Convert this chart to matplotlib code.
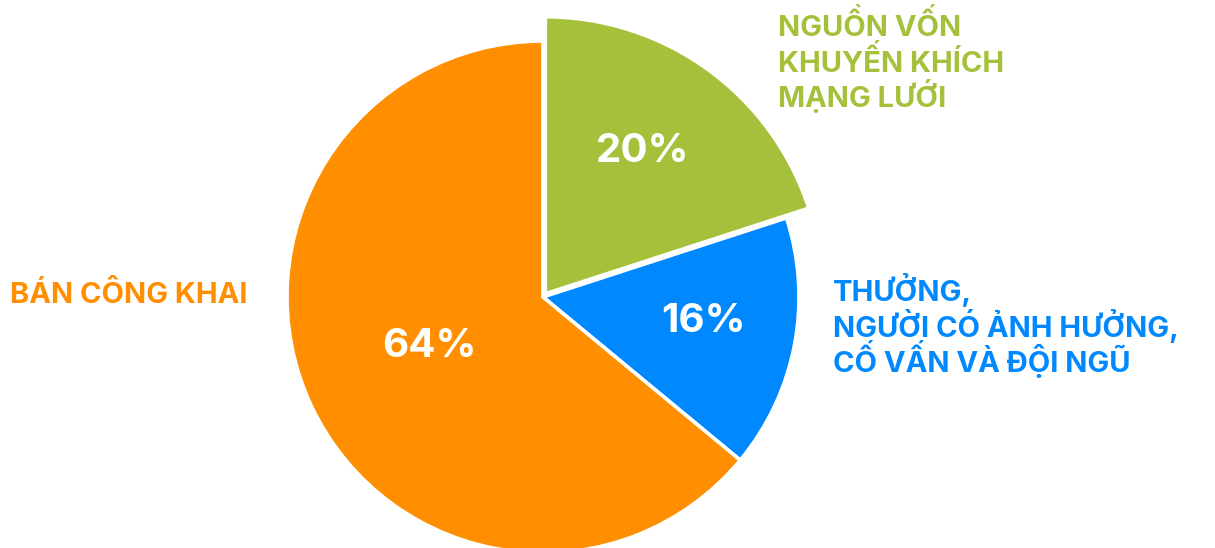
import matplotlib
matplotlib.use("Agg")
import matplotlib.pyplot as plt

# Share of funds by category (percent), clockwise from 12 o'clock
categories = [["NGUỒN VỐN", "KHUYẾN KHÍCH", "MẠNG LƯỚI"],
              ["THƯỞNG,", "NGƯỜI CÓ ẢNH HƯỞNG,", "CỐ VẤN VÀ ĐỘI NGŨ"],
              ["BÁN CÔNG KHAI"]]
values = [20, 16, 64]
pct_labels = ["20%", "16%", "64%"]
colors = ["#A5C13B", "#0088FF", "#FF8F00"]

W, H = 1215, 548
fig = plt.figure(figsize=(W / 100, H / 100), dpi=100)
ax = fig.add_axes([0, 0, 1, 1])

FONT = ["Inter", "DejaVu Sans"]
cx, cy, R = 543, 251, 256

wedges, _ = ax.pie(values, colors=colors, startangle=90, counterclock=False,
                   center=(cx, cy), radius=R, explode=[4, 0, 0],
                   wedgeprops=dict(edgecolor="white", linewidth=2.6))
ax.set_xlim(0, W)
ax.set_ylim(0, H)
ax.set_aspect("equal")
ax.axis("off")
# emphasise the first slice by enlarging it
wedges[0].set_radius(R * 1.082)

# percentage labels inside slices (x centre, baseline measured from the top)
pct_pos = [(643, 162), (703, 332), (429, 357)]
for (x, y), t in zip(pct_pos, pct_labels):
    ax.text(x, H - y, t, color="white", fontsize=29, fontweight="bold",
            family=FONT, ha="center", va="baseline")

# category labels, one text per line
def label_block(x, baselines, lines, color):
    for y, line in zip(baselines, lines):
        ax.text(x, H - y, line, color=color, fontsize=21,
                fontweight="bold", family=FONT, ha="left", va="baseline")

label_block(778, [36, 71.5, 107], categories[0], colors[0])
label_block(833, [301, 337, 372], categories[1], colors[1])
label_block(10, [303], categories[2], colors[2])

fig.savefig("out.png", dpi=100)
